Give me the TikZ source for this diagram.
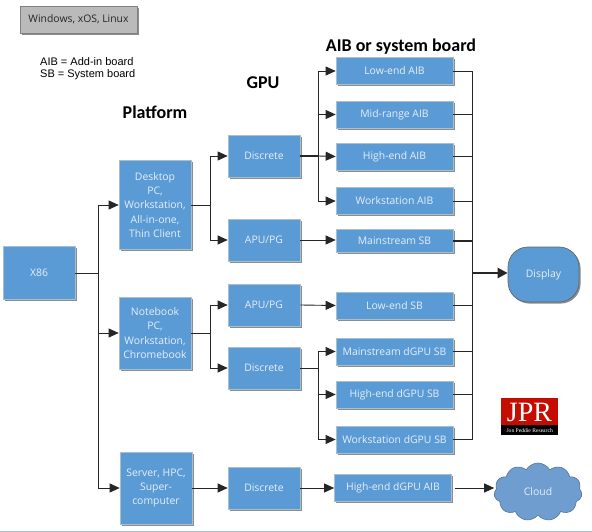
\documentclass[tikz,border=0pt]{standalone}
\usepackage{fontspec}
\setmainfont{Open Sans}
\newfontfamily\headfont{Carlito}
\newfontfamily\legendfont{Liberation Sans}
\newfontfamily\logofont{Liberation Serif}
\usetikzlibrary{shadows,shapes.symbols,arrows.meta,positioning}
\definecolor{boxblue}{HTML}{5B9BD5}
\definecolor{cloudblue}{HTML}{6F9DD0}
\definecolor{boxedge}{HTML}{A9BFC9}
\definecolor{boxtext}{HTML}{E6EEF8}
\definecolor{shadowgray}{HTML}{8C8C8C}
\definecolor{rulecolor}{HTML}{A9BEDC}
\definecolor{logored}{HTML}{C40D00}
\tikzset{
  base/.style={fill=boxblue,draw=boxedge,line width=0.7pt,text=boxtext,align=center,inner sep=0pt,
    font=\fontsize{10.4}{14.4}\selectfont,drop shadow={shadow xshift=1.6pt,shadow yshift=-1.6pt,fill=shadowgray,opacity=1}},
  big/.style={base,minimum width=72pt,minimum height=42pt},
  tall/.style={base,minimum width=72pt},
  board/.style={base,minimum width=117pt,minimum height=27pt},
  head/.style={font=\headfont\bfseries\fontsize{18}{20}\selectfont,text=black,inner sep=0pt},
  conn/.style={draw=black!85,line width=0.9pt},
  arr/.style={conn,-{Triangle[length=10pt,width=9pt]}}
}
\begin{document}
\begin{tikzpicture}[x=1pt,y=-1pt]
\useasboundingbox (0,0) rectangle (592,532);
% notes and headings
\node[base,fill=black!27,draw=black!50,text=black!85,minimum width=117pt,minimum height=27pt,drop shadow={shadow xshift=1.2pt,shadow yshift=-1.2pt,fill=black!30,opacity=1}] (os) at (78.5,19.5) {Windows, xOS, Linux};
\node[font=\legendfont\fontsize{11}{12}\selectfont,align=left,inner sep=0pt,anchor=west] (legend) at (40,69) {AIB = Add-in board\\SB = System board};
\node[head] (hplat) at (155,112) {Platform};
\node[head] (hgpu) at (263,83) {GPU};
\node[head] (haib) at (401,47) {AIB or system board};
% platform
\node[big,minimum height=53pt] (x86) at (39,273) {X86};
\node[tall,minimum height=89pt] (desktop) at (155,205) {Desktop\\PC,\\Workstation,\\All-in-one,\\Thin Client};
\node[tall,minimum height=72pt] (notebook) at (155,333) {Notebook\\PC,\\Workstation,\\Chromebook};
\node[tall,minimum height=72pt] (server) at (156,488) {Server, HPC,\\Super-\\computer};
% gpu
\node[big] (disc1) at (264,156) {Discrete};
\node[big] (apu1) at (264,240) {APU/PG};
\node[big] (apu2) at (264,305) {APU/PG};
\node[big] (disc2) at (264,368) {Discrete};
\node[big] (disc3) at (264,488) {Discrete};
% boards
\node[board] (low) at (394.5,71) {Low-end AIB};
\node[board] (mid) at (394.5,114.5) {Mid-range AIB};
\node[board] (high) at (394.5,156.5) {High-end AIB};
\node[board] (work) at (394.5,201) {Workstation AIB};
\node[board,minimum height=23pt] (msb) at (394.5,241) {Mainstream SB};
\node[board] (lsb) at (394.5,305.5) {Low-end SB};
\node[board] (mdg) at (394.5,351.5) {Mainstream dGPU SB};
\node[board] (hdg) at (394.5,394.5) {High-end dGPU SB};
\node[board] (wdg) at (394.5,439.5) {Workstation dGPU SB};
\node[board] (hda) at (393,488) {High-end dGPU AIB};
% outputs
\node[base,rounded corners=20pt,draw=black!60,minimum width=71pt,minimum height=55pt,drop shadow={shadow xshift=0.6pt,shadow yshift=-0.6pt,fill=shadowgray,opacity=1}] (display) at (543.5,274.5) {Display};
\node[cloud,cloud puffs=11,cloud puff arc=120,aspect=1.5,fill=cloudblue,draw=cloudblue!75!black,line width=0.6pt,text=boxtext,minimum width=88pt,minimum height=58pt,inner sep=0pt,font=\fontsize{10.4}{12}\selectfont] (cloud) at (538,492) {Cloud};
% coordinates
\coordinate (j1) at (98,273);
\coordinate (j2) at (210,205);
\coordinate (j3) at (210,333);
\coordinate (j4) at (318,156);
\coordinate (j5) at (318,368);
\coordinate (bus) at (472,273);
% connectors
\draw[conn] (x86.east |- j1) -- (j1);
\draw[arr] (j1) |- (desktop.west);
\draw[arr] (j1) |- (notebook.west);
\draw[arr] (j1) |- (server.west);
\draw[conn] (desktop.east) -- (j2);
\draw[arr] (j2) |- (disc1.west);
\draw[arr] (j2) |- (apu1.west);
\draw[conn] (notebook.east) -- (j3);
\draw[arr] (j3) |- (apu2.west);
\draw[arr] (j3) |- (disc2.west);
\draw[arr] (server.east) -- (disc3.west);
\draw[conn,line width=1.4pt] (disc1.east) -- (j4);
\draw[arr] (j4) |- (low.west);
\draw[arr] (j4) |- (mid.west);
\draw[arr] (j4) -- (high.west);
\draw[arr] (j4) |- (work.west);
\draw[arr] (apu1.east) -- (msb.west |- apu1.east);
\draw[arr] (apu2.east) -- (lsb.west);
\draw[conn] (disc2.east) -- (j5);
\draw[arr] (j5) |- (mdg.west);
\draw[arr] (j5) |- (hdg.west);
\draw[arr] (j5) |- (wdg.west);
\draw[arr] (disc3.east) -- (hda.west);
\draw[arr] (hda.east) ++(3,0) -- (cloud.west |- hda.east);
\draw[conn] (low.east) -| (bus);
\draw[conn] (mid.east) -| (bus);
\draw[conn] (high.east) -| (bus);
\draw[conn] (work.east) -| (bus);
\draw[conn,line width=1.3pt] (msb.east) -- (bus |- msb.east);
\draw[conn] (lsb.east) -| (bus);
\draw[conn] (mdg.east) -| (bus);
\draw[conn] (hdg.east) -| (bus);
\draw[conn] (wdg.east) -| (bus);
\draw[conn,line width=2.4pt,-{Triangle[length=10pt,width=10pt]}] (bus) -- (display.west |- bus);
% logo
\node[fill=logored,minimum width=57pt,minimum height=27pt,inner sep=0pt,anchor=north west] (logored) at (501,398) {};
\node[fill=black,minimum width=57pt,minimum height=10pt,inner sep=0pt,anchor=north west,text=white,font=\logofont\fontsize{5.6}{6}\selectfont] (logoblack) at (501,425) {Jon Peddie Research};
\node[text=white,font=\logofont\fontsize{28}{28}\selectfont,inner sep=0pt] (jpr) at (529.5,412.5) {JPR};
% bottom rule
\fill[rulecolor] (0,530.5) rectangle (592,532);
\end{tikzpicture}
\end{document}
